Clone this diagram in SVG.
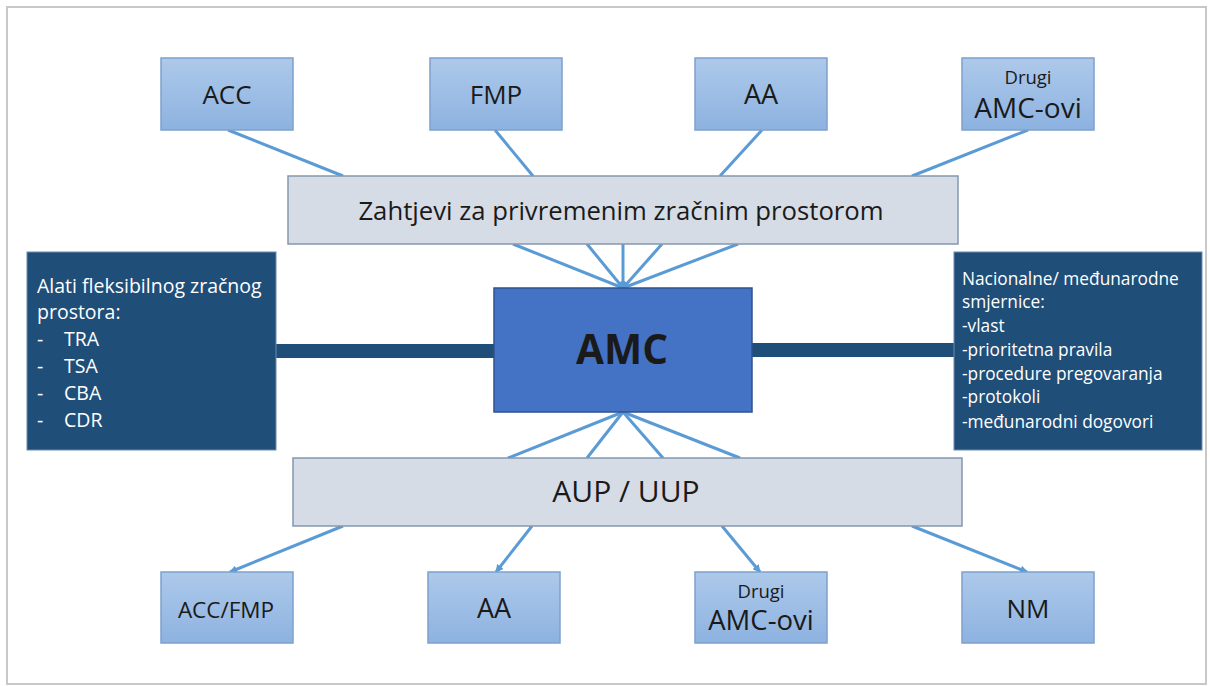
<svg xmlns="http://www.w3.org/2000/svg" width="1210" height="686" viewBox="0 0 1210 686">
<defs>
<linearGradient id="lb" x1="0" y1="0" x2="0" y2="1">
<stop offset="0" stop-color="#ADC9EA"/>
<stop offset="1" stop-color="#8DB2E0"/>
</linearGradient>
<marker id="arr" markerWidth="8" markerHeight="8" refX="7" refY="4" orient="auto" markerUnits="userSpaceOnUse">
<path d="M0,0 L8,4 L0,8 Z" fill="#5B9BD5"/>
</marker>
</defs>
<style>
.sm{fill:url(#lb);stroke:#7EA0CC;stroke-width:1.5}
.bar{fill:#D6DCE5;stroke:#8497B0;stroke-width:1.5}
.dk{fill:#1F4E79;stroke:#6D8BAE;stroke-width:1}
.amc{fill:#4472C4;stroke:#2F528F;stroke-width:1.5}
.ln{stroke:#5B9BD5;stroke-width:3;fill:none}
.thick{stroke:#1F4E79;stroke-width:14}
text{font-family:"Open Sans","Noto Sans",sans-serif;fill:#1a1a1a}
.c{text-anchor:middle}
.w{fill:#FFFFFF}
.l{font-size:19.5px}
.r{font-size:17.3px}
</style>
<rect x="0" y="0" width="1210" height="686" fill="#FFFFFF"/>
<rect x="7" y="7" width="1199" height="677" fill="none" stroke="#C8C8C8" stroke-width="2"/>

<g id="connectors">
<line class="ln" x1="228" y1="130" x2="343" y2="176"/>
<line class="ln" x1="495" y1="130" x2="533" y2="176"/>
<line class="ln" x1="762" y1="130" x2="720" y2="176"/>
<line class="ln" x1="1028" y1="130" x2="912" y2="176"/>
<line class="ln" x1="513" y1="244" x2="623" y2="288"/>
<line class="ln" x1="587" y1="244" x2="623" y2="288"/>
<line class="ln" x1="623" y1="244" x2="623" y2="288"/>
<line class="ln" x1="662" y1="244" x2="623" y2="288"/>
<line class="ln" x1="738" y1="244" x2="623" y2="288"/>
<circle cx="623" cy="286" r="5" fill="#5B9BD5"/>
<line class="ln" x1="623" y1="412" x2="508" y2="458"/>
<line class="ln" x1="623" y1="412" x2="587" y2="458"/>
<line class="ln" x1="623" y1="412" x2="663" y2="458"/>
<line class="ln" x1="623" y1="412" x2="740" y2="458"/>
<line class="ln" x1="343" y1="526" x2="230" y2="572" marker-end="url(#arr)"/>
<line class="ln" x1="532" y1="526" x2="496" y2="572" marker-end="url(#arr)"/>
<line class="ln" x1="722" y1="526" x2="760" y2="572" marker-end="url(#arr)"/>
<line class="ln" x1="912" y1="526" x2="1027" y2="572" marker-end="url(#arr)"/>
<line class="thick" x1="276" y1="351" x2="494" y2="351"/>
<line class="thick" x1="752" y1="350" x2="954" y2="350"/>
</g>

<g id="acc"><rect class="sm" x="161" y="58" width="132" height="72"/><text class="c" x="227" y="104" font-size="26">ACC</text></g>
<g id="fmp"><rect class="sm" x="430" y="58" width="132" height="72"/><text class="c" x="496" y="104" font-size="26">FMP</text></g>
<g id="aa-top"><rect class="sm" x="695" y="58" width="132" height="72"/><text class="c" x="761" y="104" font-size="27">AA</text></g>
<g id="drugi-top"><rect class="sm" x="962" y="58" width="132" height="72"/><text class="c" x="1028" y="84" font-size="18.5">Drugi</text><text class="c" x="1028" y="118" font-size="28">AMC-ovi</text></g>

<g id="zahtjevi"><rect class="bar" x="288" y="176" width="670" height="68"/><text class="c" x="621" y="220" font-size="25.7">Zahtjevi za privremenim zračnim prostorom</text></g>

<g id="amc"><rect class="amc" x="494" y="288" width="258" height="124"/><text class="c" x="622" y="364" font-size="40.5" font-weight="bold" fill="#111111">AMC</text></g>

<g id="alati"><rect class="dk" x="27" y="252" width="249" height="198"/>
<text class="w l" x="37" y="293">Alati fleksibilnog zračnog</text>
<text class="w l" x="37" y="319">prostora:</text>
<text class="w l" x="37" y="346">-</text><text class="w l" x="64" y="346">TRA</text>
<text class="w l" x="37" y="373">-</text><text class="w l" x="64" y="373">TSA</text>
<text class="w l" x="37" y="400">-</text><text class="w l" x="64" y="400">CBA</text>
<text class="w l" x="37" y="427">-</text><text class="w l" x="64" y="427">CDR</text>
</g>

<g id="smjernice"><rect class="dk" x="954" y="252" width="248" height="198"/>
<text class="w r" x="962" y="285">Nacionalne/ međunarodne</text>
<text class="w r" x="962" y="308">smjernice:</text>
<text class="w r" x="962" y="332">-vlast</text>
<text class="w r" x="962" y="356">-prioritetna pravila</text>
<text class="w r" x="962" y="380">-procedure pregovaranja</text>
<text class="w r" x="962" y="403">-protokoli</text>
<text class="w r" x="962" y="428">-međunarodni dogovori</text>
</g>

<g id="aup"><rect class="bar" x="293" y="458" width="669" height="68"/><text class="c" x="626" y="502" font-size="30">AUP / UUP</text></g>

<g id="accfmp"><rect class="sm" x="161" y="572" width="132" height="71"/><text class="c" x="226" y="618" font-size="22.5">ACC/FMP</text></g>
<g id="aa-bot"><rect class="sm" x="428" y="572" width="132" height="71"/><text class="c" x="494" y="618" font-size="27">AA</text></g>
<g id="drugi-bot"><rect class="sm" x="695" y="572" width="132" height="71"/><text class="c" x="761" y="598" font-size="18.5">Drugi</text><text class="c" x="761" y="630" font-size="27.5">AMC-ovi</text></g>
<g id="nm"><rect class="sm" x="962" y="572" width="132" height="71"/><text class="c" x="1028" y="618" font-size="26">NM</text></g>
</svg>
